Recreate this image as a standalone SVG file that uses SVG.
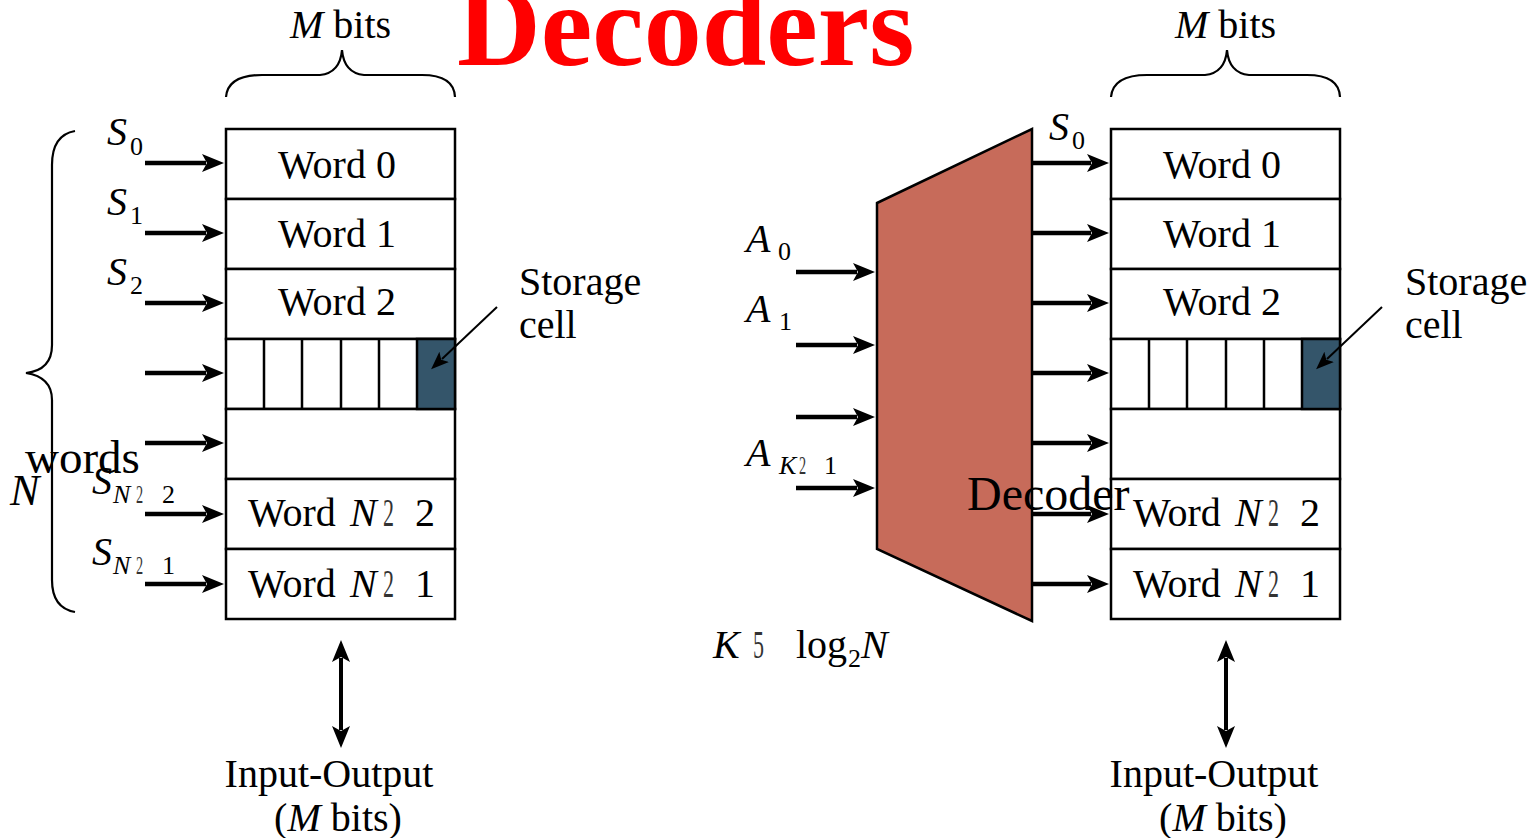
<svg xmlns="http://www.w3.org/2000/svg" width="1538" height="838" viewBox="0 0 1538 838">
<style>
.t{font-family:"Liberation Serif","Times New Roman",serif;font-size:40px;fill:#000}
.i{font-style:italic}
.sub{font-family:"Liberation Serif","Times New Roman",serif;font-size:26px;fill:#000}
.box{fill:#fff;stroke:#000;stroke-width:2.5}
.cell{fill:#34556A;stroke:#000;stroke-width:2.5}
.ar{stroke:#000;stroke-width:4.5;fill:none;marker-end:url(#ah)}
.thin{stroke:#000;stroke-width:2;fill:none;marker-end:url(#ahs)}
.brace{stroke:#000;stroke-width:2.2;fill:none}
.dbl{stroke:#000;stroke-width:4;fill:none;marker-end:url(#ah);marker-start:url(#ahr)}
.m{opacity:0.8}
</style>
<defs>
<marker id="ah" viewBox="0 -10 24 20" markerWidth="24" markerHeight="20" refX="4" refY="0" markerUnits="userSpaceOnUse" orient="auto"><path d="M0,-9 L22,0 L0,9 L5,0 z" fill="#000"/></marker>
<marker id="ahr" viewBox="-24 -10 24 20" markerWidth="24" markerHeight="20" refX="-4" refY="0" markerUnits="userSpaceOnUse" orient="auto"><path d="M0,-9 L-22,0 L0,9 L-5,0 z" fill="#000"/></marker>
<marker id="ahs" viewBox="0 -8 20 16" markerWidth="20" markerHeight="16" refX="3" refY="0" markerUnits="userSpaceOnUse" orient="auto"><path d="M0,-7 L18,0 L0,7 L4,0 z" fill="#000"/></marker>
</defs>

<text x="457" y="65" style="font-family:'Liberation Serif','Times New Roman',serif;font-size:116px;font-weight:bold;fill:#ff0000">Decoders</text>

<!-- LEFT MEMORY -->
<g id="left-memory">
<rect class="box" x="226" y="129" width="229" height="70"/>
<rect class="box" x="226" y="199" width="229" height="70"/>
<rect class="box" x="226" y="269" width="229" height="70"/>
<rect class="box" x="226" y="339" width="229" height="70"/>
<rect class="box" x="226" y="409" width="229" height="70"/>
<rect class="box" x="226" y="479" width="229" height="70"/>
<rect class="box" x="226" y="549" width="229" height="70"/>
<rect class="cell" x="417" y="339" width="38" height="70"/>
<path d="M264,339V409M302,339V409M341,339V409M379,339V409" stroke="#000" stroke-width="2.5"/>
<text class="t" x="337" y="178" text-anchor="middle">Word 0</text>
<text class="t" x="337" y="247" text-anchor="middle">Word 1</text>
<text class="t" x="337" y="315" text-anchor="middle">Word 2</text>
<text class="t" x="248" y="526">Word</text><text class="t i" x="350" y="526">N</text><text class="t m" x="383" y="526" transform="translate(383 0) scale(0.55 1) translate(-383 0)">2</text><text class="t" x="415" y="526">2</text>
<text class="t" x="248" y="597">Word</text><text class="t i" x="350" y="597">N</text><text class="t m" x="383" y="597" transform="translate(383 0) scale(0.55 1) translate(-383 0)">2</text><text class="t" x="415" y="597">1</text>
</g>

<g id="left-labels">
<text class="t" x="290" y="38"><tspan class="i">M</tspan> bits</text>
<path class="brace" d="M226,97 Q228,75 262,75 L320,75 Q340,73 342,50 Q344,73 364,75 L422,75 Q454,75 455,97"/>
<path class="brace" d="M75,131 Q52,135 52,165 L52,345 Q52,370 26,373 Q52,377 52,400 L52,580 Q52,608 75,612"/>
<text class="t i" x="107" y="145">S</text><text class="sub" x="130" y="155">0</text>
<text class="t i" x="107" y="215">S</text><text class="sub" x="130" y="224">1</text>
<text class="t i" x="107" y="285">S</text><text class="sub" x="130" y="294">2</text>
<text class="t i" x="92" y="494">S</text><text class="sub i" x="113" y="503">N</text><text class="sub m" x="136" y="503" transform="translate(136 0) scale(0.55 1) translate(-136 0)">2</text><text class="sub" x="162" y="503">2</text>
<text class="t i" x="92" y="565">S</text><text class="sub i" x="113" y="574">N</text><text class="sub m" x="136" y="574" transform="translate(136 0) scale(0.55 1) translate(-136 0)">2</text><text class="sub" x="162" y="574">1</text>
<text class="t" x="25" y="473" style="font-size:47px">words</text>
<text class="t i" x="10" y="505" style="font-size:44px">N</text>
<text class="t" x="519" y="295">Storage</text>
<text class="t" x="519" y="338">cell</text>
<text class="t" x="329" y="787" text-anchor="middle">Input-Output</text>
<text class="t" x="338" y="831" text-anchor="middle">(<tspan class="i">M</tspan> bits)</text>
</g>

<!-- RIGHT MEMORY -->
<g id="right-memory">
<rect class="box" x="1111" y="129" width="229" height="70"/>
<rect class="box" x="1111" y="199" width="229" height="70"/>
<rect class="box" x="1111" y="269" width="229" height="70"/>
<rect class="box" x="1111" y="339" width="229" height="70"/>
<rect class="box" x="1111" y="409" width="229" height="70"/>
<rect class="box" x="1111" y="479" width="229" height="70"/>
<rect class="box" x="1111" y="549" width="229" height="70"/>
<rect class="cell" x="1302" y="339" width="38" height="70"/>
<path d="M1149,339V409M1187,339V409M1226,339V409M1264,339V409" stroke="#000" stroke-width="2.5"/>
<text class="t" x="1222" y="178" text-anchor="middle">Word 0</text>
<text class="t" x="1222" y="247" text-anchor="middle">Word 1</text>
<text class="t" x="1222" y="315" text-anchor="middle">Word 2</text>
<text class="t" x="1133" y="526">Word</text><text class="t i" x="1235" y="526">N</text><text class="t m" x="1268" y="526" transform="translate(1268 0) scale(0.55 1) translate(-1268 0)">2</text><text class="t" x="1300" y="526">2</text>
<text class="t" x="1133" y="597">Word</text><text class="t i" x="1235" y="597">N</text><text class="t m" x="1268" y="597" transform="translate(1268 0) scale(0.55 1) translate(-1268 0)">2</text><text class="t" x="1300" y="597">1</text>
</g>

<g id="right-labels">
<text class="t" x="1175" y="38"><tspan class="i">M</tspan> bits</text>
<path class="brace" d="M1111,97 Q1113,75 1147,75 L1205,75 Q1225,73 1227,50 Q1229,73 1249,75 L1307,75 Q1339,75 1340,97"/>
<text class="t" x="1405" y="295">Storage</text>
<text class="t" x="1405" y="338">cell</text>
<text class="t" x="1214" y="787" text-anchor="middle">Input-Output</text>
<text class="t" x="1223" y="831" text-anchor="middle">(<tspan class="i">M</tspan> bits)</text>
</g>

<!-- DECODER -->
<g id="decoder">
<polygon points="877,203 1032,129 1032,621 877,549" fill="#C76B5A" stroke="#000" stroke-width="2.5"/>
</g>

<g id="decoder-labels">
<text class="t i" x="746" y="252">A</text><text class="sub" x="778" y="260">0</text>
<text class="t i" x="746" y="322">A</text><text class="sub" x="779" y="330">1</text>
<text class="t i" x="746" y="466">A</text><text class="sub i" x="779" y="474">K</text><text class="sub m" x="799" y="474" transform="translate(799 0) scale(0.55 1) translate(-799 0)">2</text><text class="sub" x="824" y="474">1</text>
<text class="t i" x="713" y="658">K</text><text class="t m" x="753" y="658" transform="translate(753 0) scale(0.55 1) translate(-753 0)">5</text><text class="t" x="796" y="658">log</text><text class="sub" x="848" y="667">2</text><text class="t i" x="861" y="658">N</text>
<text class="t i" x="1049" y="140">S</text><text class="sub" x="1072" y="149">0</text>
</g>

<!-- CONNECTORS -->
<g id="connectors">
<line class="ar" x1="145" y1="163" x2="206" y2="163"/>
<line class="ar" x1="145" y1="233" x2="206" y2="233"/>
<line class="ar" x1="145" y1="303" x2="206" y2="303"/>
<line class="ar" x1="145" y1="373" x2="206" y2="373"/>
<line class="ar" x1="145" y1="443" x2="206" y2="443"/>
<line class="ar" x1="145" y1="514" x2="206" y2="514"/>
<line class="ar" x1="145" y1="584" x2="206" y2="584"/>
<line class="thin" x1="497" y1="307" x2="442" y2="359"/>
<line class="dbl" x1="341" y1="658" x2="341" y2="730"/>

<line class="ar" x1="796" y1="272" x2="857" y2="272"/>
<line class="ar" x1="796" y1="345" x2="857" y2="345"/>
<line class="ar" x1="796" y1="417" x2="857" y2="417"/>
<line class="ar" x1="796" y1="488" x2="857" y2="488"/>

<line class="ar" x1="1033" y1="163" x2="1091" y2="163"/>
<line class="ar" x1="1033" y1="233" x2="1091" y2="233"/>
<line class="ar" x1="1033" y1="303" x2="1091" y2="303"/>
<line class="ar" x1="1033" y1="373" x2="1091" y2="373"/>
<line class="ar" x1="1033" y1="443" x2="1091" y2="443"/>
<line class="ar" x1="1033" y1="514" x2="1091" y2="514"/>
<line class="ar" x1="1033" y1="584" x2="1091" y2="584"/>
<line class="thin" x1="1382" y1="307" x2="1327" y2="359"/>
<line class="dbl" x1="1226" y1="658" x2="1226" y2="730"/>
</g>

<g id="decoder-label">
<text class="t" x="967" y="510" style="font-size:48px">Decoder</text>
</g>
</svg>
